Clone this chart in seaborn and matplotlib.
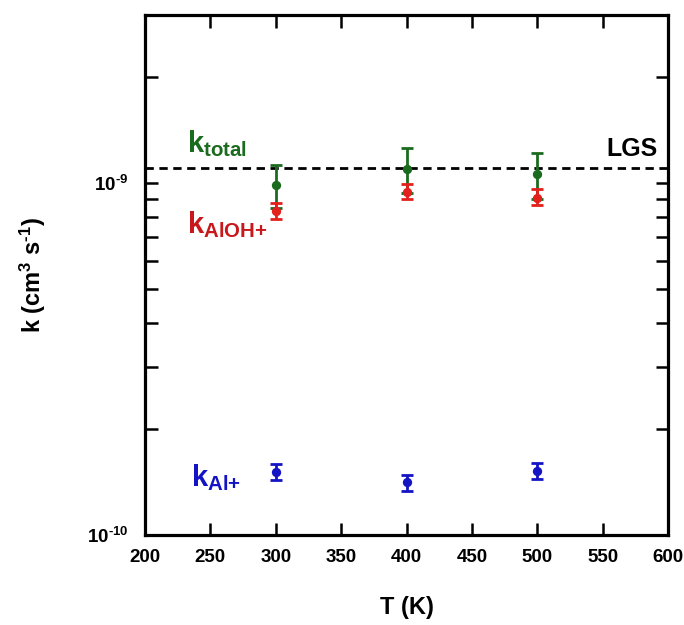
import numpy as np
import pandas as pd
import matplotlib
matplotlib.use("Agg")
import matplotlib.pyplot as plt
import seaborn as sns
from matplotlib.ticker import FixedLocator, NullFormatter, MultipleLocator, FuncFormatter

# data
temps = [300, 400, 500]

k_total = [0.987e-9, 1.096e-9, 1.06e-9]
k_total_lo = [0.14e-9, 0.16e-9, 0.16e-9]
k_total_hi = [0.14e-9, 0.16e-9, 0.16e-9]

k_aloh = [0.833e-9, 0.943e-9, 0.907e-9]
k_aloh_lo = [0.043e-9, 0.043e-9, 0.041e-9]
k_aloh_hi = [0.045e-9, 0.050e-9, 0.055e-9]

k_al = [1.51e-10, 1.41e-10, 1.52e-10]
k_al_lo = [0.08e-10, 0.08e-10, 0.08e-10]
k_al_hi = [0.08e-10, 0.07e-10, 0.08e-10]

k_lgs = 1.10e-9

y_major = [1e-10, 1e-9]
y_minor = [m * 1e-10 for m in range(2, 10)] + [2e-9, 3e-9]

sns.set_style("ticks")
plt.rcParams['font.family'] = ['Liberation Sans', 'DejaVu Sans']
plt.rcParams['font.weight'] = 'bold'
plt.rcParams['mathtext.fontset'] = 'custom'
plt.rcParams['mathtext.rm'] = 'Liberation Sans:bold'
plt.rcParams['mathtext.bf'] = 'Liberation Sans:bold'
plt.rcParams['mathtext.it'] = 'Liberation Sans:bold'
plt.rcParams['axes.unicode_minus'] = False
plt.rcParams['text.color'] = 'black'
plt.rcParams['axes.labelcolor'] = 'black'
plt.rcParams['xtick.color'] = 'black'
plt.rcParams['ytick.color'] = 'black'
plt.rcParams['axes.edgecolor'] = 'black'

green = '#1b6b1f'
red = '#e3201b'
red_dark = '#c8181c'
blue = '#1414c4'

series = [
    (k_total, k_total_lo, k_total_hi, green),
    (k_aloh, k_aloh_lo, k_aloh_hi, red),
    (k_al, k_al_lo, k_al_hi, blue),
]

fig = plt.figure(figsize=(6.84, 6.25), dpi=100)
ax = fig.add_axes([0.212, 0.144, 0.765, 0.832])

ax.axhline(k_lgs, color='black', ls=(0, (3, 2)), lw=2, zorder=1)

for vals, lo, hi, col in series:
    ax.errorbar(temps, vals, yerr=[lo, hi], fmt='none', ecolor=col,
                elinewidth=2, capsize=4, capthick=2, zorder=2)
    df = pd.DataFrame({'T': temps, 'k': vals})
    sns.scatterplot(data=df, x='T', y='k', color=col, s=45, edgecolor=col,
                    linewidth=0, ax=ax, zorder=3, legend=False)

ax.set_yscale('log')
ax.set_xlim(200, 600)
ax.set_ylim(1e-10, 3e-9)
ax.xaxis.set_major_locator(MultipleLocator(50))
ax.yaxis.set_major_locator(FixedLocator(y_major))
ax.yaxis.set_major_formatter(
    FuncFormatter(lambda v, p: r'10$^{\text{%d}}$' % round(np.log10(v))))
ax.yaxis.set_minor_locator(FixedLocator(y_minor))
ax.yaxis.set_minor_formatter(NullFormatter())

ax.tick_params(which='both', direction='in', top=True, right=True, width=1.8,
               labelsize=13.5)
ax.tick_params(which='major', length=9)
ax.tick_params(which='minor', length=9)
ax.tick_params(axis='x', pad=10)
ax.tick_params(axis='y', pad=12)
for lab in ax.get_xticklabels() + ax.get_yticklabels():
    lab.set_fontweight('bold')
for sp in ax.spines.values():
    sp.set_linewidth(2.3)

ax.set_xlabel('T (K)', fontsize=17, fontweight='bold', labelpad=22)
ax.set_ylabel(r'k (cm$^3$ s$^{\text{-1}}$)', fontsize=17, fontweight='bold',
              labelpad=28)

ax.text(232, 1.22e-9, r'k$_{\rm total}$', color=green, fontsize=21)
ax.text(232, 0.72e-9, r'k$_{\rm AlOH{+}}$', color=red_dark, fontsize=21)
ax.text(235, 1.38e-10, r'k$_{\rm Al{+}}$', color=blue, fontsize=21)
ax.text(592, 1.19e-9, 'LGS', color='black', fontsize=18, fontweight='bold',
        ha='right')

fig.savefig('out.png', dpi=100)
